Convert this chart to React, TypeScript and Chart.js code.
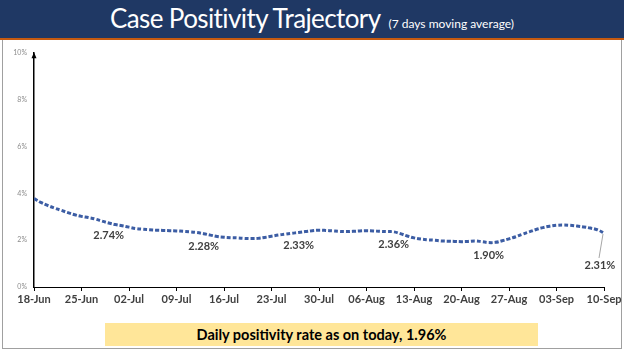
import React, { useEffect, useRef } from "react";
import { Chart, registerables } from "chart.js";

Chart.register(...registerables);

// Weekly tick labels (day offset 0, 7, 14, ... 84)
const tickLabels = [
  "18-Jun", "25-Jun", "02-Jul", "09-Jul", "16-Jul", "23-Jul", "30-Jul",
  "06-Aug", "13-Aug", "20-Aug", "27-Aug", "03-Sep", "10-Sep",
];

// 7-day moving average case positivity (%), one value per day from 18-Jun to 10-Sep
const positivity = [
  3.78, 3.62, 3.49, 3.38, 3.28, 3.18, 3.09, 3.02, 2.97, 2.91,
  2.82, 2.74, 2.67, 2.62, 2.56, 2.50, 2.47, 2.45, 2.43, 2.42,
  2.41, 2.40, 2.38, 2.36, 2.33, 2.28, 2.22, 2.16, 2.13, 2.11,
  2.10, 2.08, 2.07, 2.08, 2.12, 2.17, 2.22, 2.26, 2.30, 2.33,
  2.37, 2.41, 2.43, 2.42, 2.40, 2.38, 2.37, 2.38, 2.40, 2.41,
  2.40, 2.38, 2.37, 2.36, 2.28, 2.18, 2.10, 2.05, 2.02, 2.00,
  1.97, 1.96, 1.95, 1.94, 1.95, 1.97, 1.94, 1.90, 1.91, 1.98,
  2.06, 2.15, 2.26, 2.36, 2.46, 2.54, 2.60, 2.64, 2.65, 2.64,
  2.61, 2.57, 2.52, 2.45, 2.31,
];

// Day indices that carry a data label
const labelledDays = [11, 25, 39, 53, 67, 84];

const titleText = "Case Positivity Trajectory";
const subtitleText = "(7 days moving average)";
const bannerText = "Daily positivity rate as on today, 1.96%";

const FONT = "Lato, 'Noto Sans', sans-serif";

const pointLabelPlugin = {
  id: "pointLabels",
  afterDatasetsDraw(chart: any) {
    const ctx = chart.ctx;
    const meta = chart.getDatasetMeta(0);
    ctx.save();
    ctx.font = `bold 11px ${FONT}`;
    ctx.fillStyle = "#404040";
    ctx.textAlign = "center";
    ctx.textBaseline = "middle";
    labelledDays.forEach((d) => {
      const pt = meta.data[d];
      if (!pt) return;
      const text = positivity[d].toFixed(2) + "%";
      if (d === positivity.length - 1) {
        ctx.strokeStyle = "#a6a6a6";
        ctx.lineWidth = 1;
        ctx.beginPath();
        ctx.moveTo(pt.x - 1, pt.y + 1);
        ctx.lineTo(pt.x - 5, pt.y + 25);
        ctx.stroke();
        ctx.fillText(text, pt.x - 4, pt.y + 32);
      } else {
        ctx.fillText(text, pt.x, pt.y + 13);
      }
    });
    ctx.restore();
  },
};

const arrowPlugin = {
  id: "yArrow",
  afterDraw(chart: any) {
    const ctx = chart.ctx;
    const x = chart.chartArea.left;
    const y = chart.chartArea.top;
    ctx.save();
    ctx.fillStyle = "#000";
    ctx.beginPath();
    ctx.moveTo(x, y - 1);
    ctx.lineTo(x - 2.5, y + 5);
    ctx.lineTo(x + 2.5, y + 5);
    ctx.closePath();
    ctx.fill();
    ctx.restore();
  },
};

function PositivityChart() {
  const ref = useRef<HTMLCanvasElement>(null);
  useEffect(() => {
    if (!ref.current) return;
    const chart = new Chart(ref.current, {
      type: "line",
      data: {
        datasets: [
          {
            data: positivity.map((v, i) => ({ x: i, y: v })),
            borderColor: "#3C5DA4",
            borderWidth: 3,
            borderDash: [4, 2],
            borderCapStyle: "butt",
            tension: 0.4,
            pointRadius: 0,
            fill: false,
          },
        ],
      },
      options: {
        responsive: false,
        animation: false,
        events: [],
        layout: { padding: { left: 0, right: 20, top: 10, bottom: 0 } },
        plugins: { legend: { display: false }, tooltip: { enabled: false } },
        scales: {
          x: {
            type: "linear",
            min: 0,
            max: positivity.length - 1,
            afterFit: (s: any) => { s.height = 27; },
            ticks: {
              stepSize: 7,
              autoSkip: false,
              maxRotation: 0,
              padding: 2,
              color: "#404040",
              font: { family: FONT, size: 11, weight: "bold" },
              callback: (v: any) => tickLabels[Math.round(Number(v) / 7)] ?? "",
            },
            grid: { display: true, drawOnChartArea: false, color: "#000", tickLength: 4 },
            border: { display: true, color: "#000", width: 1 },
          },
          y: {
            min: 0,
            max: 10,
            afterFit: (s: any) => { s.width = 34; },
            ticks: {
              stepSize: 2,
              padding: 7,
              color: "#8c8c8c",
              font: { family: FONT, size: 7 },
              callback: (v: any) => v + "%",
            },
            grid: { display: true, drawOnChartArea: false, drawTicks: false, color: "rgba(0,0,0,0)" },
            border: { display: true, color: "#000", width: 1.5 },
          },
        },
      },
      plugins: [pointLabelPlugin, arrowPlugin],
    } as any);
    return () => chart.destroy();
  }, []);
  return <canvas ref={ref} width={624} height={272} style={{ display: "block" }} />;
}

export default function App() {
  return (
    <div
      style={{
        position: "fixed",
        left: 0,
        top: 0,
        width: 624,
        height: 351,
        background: "#fff",
        overflow: "hidden",
        fontFamily: FONT,
      }}
    >
      <div
        style={{
          position: "absolute",
          left: 2,
          top: 0,
          width: 618,
          height: 348,
          border: "1px solid #a0a0a0",
          borderTop: "none",
        }}
      />
      <div
        style={{
          position: "absolute",
          left: 0,
          top: 0,
          width: 624,
          height: 38,
          background: "#1F3864",
          display: "flex",
          alignItems: "baseline",
          justifyContent: "center",
          color: "#fff",
          whiteSpace: "nowrap",
        }}
      >
        <span style={{ fontSize: 26, lineHeight: "36px", letterSpacing: -0.6 }}>{titleText}</span>
        <span style={{ fontSize: 12, marginLeft: 8 }}>{subtitleText}</span>
      </div>
      <div style={{ position: "absolute", left: 0, top: 38, width: 624, height: 2, background: "#C55A11" }} />
      <div style={{ position: "absolute", left: 0, top: 42 }}>
        <PositivityChart />
      </div>
      <div
        style={{
          position: "absolute",
          left: 105,
          top: 323,
          width: 433,
          height: 23,
          background: "#FFE699",
          display: "flex",
          alignItems: "center",
          justifyContent: "center",
          fontWeight: "bold",
          fontSize: 14.5,
          color: "#000",
          whiteSpace: "nowrap",
        }}
      >
        {bannerText}
      </div>
    </div>
  );
}
